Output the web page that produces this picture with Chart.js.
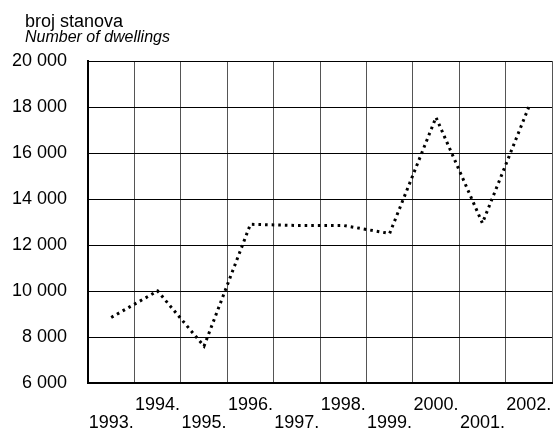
<!DOCTYPE html>
<html>
<head>
<meta charset="utf-8">
<script src="https://cdn.jsdelivr.net/npm/chart.js@4/dist/chart.umd.min.js"></script>
<style>
    html, body { margin: 0; padding: 0; background: #fff; }
    #grafico { width: 557px; height: 439px; }
</style>
</head>
<body>
<div id="grafico"><canvas id="graficoStanova"></canvas></div>
<script>
var godine = ['1993.', '1994.', '1995.', '1996.', '1997.', '1998.', '1999.', '2000.', '2001.', '2002.'];
var brojStanova = [8850, 10000, 7600, 12900, 12850, 12850, 12500, 17550, 12950, 18000];
var osY = { min: 6000, max: 20000, korak: 2000 };
var naslov = 'broj stanova';
var podnaslov = 'Number of dwellings';

var FONT = "'Liberation Sans', Arial, sans-serif";

// parne godine gore, neparne dolje
var oznake = godine.map(function (g, i) {
    return i % 2 === 0 ? ['', g] : [g, ''];
});

var naslovPlugin = {
    id: 'naslovPlugin',
    afterDraw: function (chart) {
        var c = chart.ctx;
        c.save();
        c.fillStyle = '#000';
        c.textBaseline = 'alphabetic';
        c.textAlign = 'left';
        c.font = '18px ' + FONT;
        c.fillText(naslov, 25, 27);
        c.font = 'italic 16px ' + FONT;
        c.fillText(podnaslov, 25, 42);
        c.restore();
    }
};

function rodarGrafico() {
    var ctx = document.getElementById('graficoStanova').getContext('2d');

    var grafico = new Chart(ctx, {
        type: 'line',

        // The data for our dataset
        data: {
            labels: oznake,
            datasets: [{
                label: podnaslov,
                data: brojStanova,
                borderColor: '#000',
                borderWidth: 3,
                borderDash: [2.6, 4],
                borderCapStyle: 'butt',
                fill: false,
                tension: 0,
                pointRadius: 0
            }]
        },

        // Configuration options go here
        options: {
            responsive: true,
            maintainAspectRatio: false,
            animation: false,
            layout: { padding: { top: 61, right: 5, left: 0, bottom: 0 } },
            plugins: {
                legend: { display: false },
                tooltip: { enabled: false }
            },
            scales: {
                x: {
                    offset: true,
                    grid: { offset: true, color: '#555', lineWidth: 1, drawTicks: false },
                    border: { color: '#000', width: 2 },
                    ticks: {
                        color: '#000',
                        font: { family: FONT, size: 18, lineHeight: 1 },
                        padding: 13,
                        maxRotation: 0,
                        autoSkip: false
                    },
                    afterFit: function (s) {
                        s.height = 56;
                        s.paddingLeft = 0;
                        s.paddingRight = 0;
                    }
                },
                y: {
                    min: osY.min,
                    max: osY.max,
                    grid: { color: '#000', lineWidth: 1, drawTicks: false },
                    border: { color: '#000', width: 2 },
                    ticks: {
                        stepSize: osY.korak,
                        color: '#000',
                        font: { family: FONT, size: 18 },
                        padding: 21,
                        callback: function (v) {
                            return String(v).replace(/\B(?=(\d{3})+(?!\d))/g, ' ');
                        }
                    },
                    afterFit: function (s) { s.width = 88; }
                }
            }
        },
        plugins: [naslovPlugin]
    });
}

rodarGrafico();
</script>
</body>
</html>
